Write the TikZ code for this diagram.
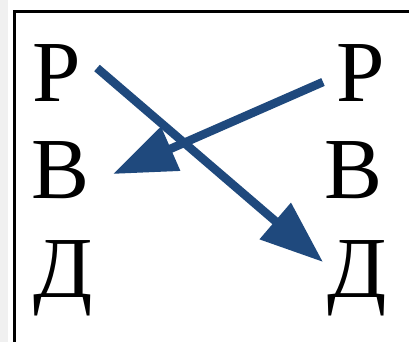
\documentclass[tikz,border=0pt]{standalone}
\usepackage{fontspec}
\setmainfont{Liberation Serif}
\usetikzlibrary{arrows.meta}
\definecolor{arrowblue}{RGB}{31,73,125}
\definecolor{stripgray}{RGB}{240,240,240}
\tikzset{
  letter/.style={inner sep=0pt, anchor=base west, font=\fontsize{87}{87}\selectfont},
  bigarrow/.style={draw=arrowblue, line width=8.5pt, -{Triangle[length=63pt,width=46pt]}},
  frame/.style={draw=black, line width=3pt}
}
\begin{document}
\begin{tikzpicture}[x=1pt,y=-1pt]
\useasboundingbox (0,0) rectangle (409,342);
\clip (0,0) rectangle (409,342);
\fill[white] (0,0) rectangle (409,342);
\fill[stripgray] (0,0) rectangle (8,342);
\draw[frame] (14,12) rectangle (420,360);
\node[letter] (lR) at (32,102) {Р};
\node[letter] (lB) at (31.5,198) {В};
\node[letter] (lD) at (33,297) {Д};
\node[letter] (rR) at (336,102) {Р};
\node[letter] (rB) at (324.5,198) {В};
\node[letter] (rD) at (327,297) {Д};
\coordinate (a1s) at (97,68);
\coordinate (a1e) at (323,262);
\coordinate (a2s) at (323,82);
\coordinate (a2e) at (113,174);
\draw[bigarrow] (a1s) -- (a1e);
\draw[bigarrow] (a2s) -- (a2e);
\end{tikzpicture}
\end{document}
